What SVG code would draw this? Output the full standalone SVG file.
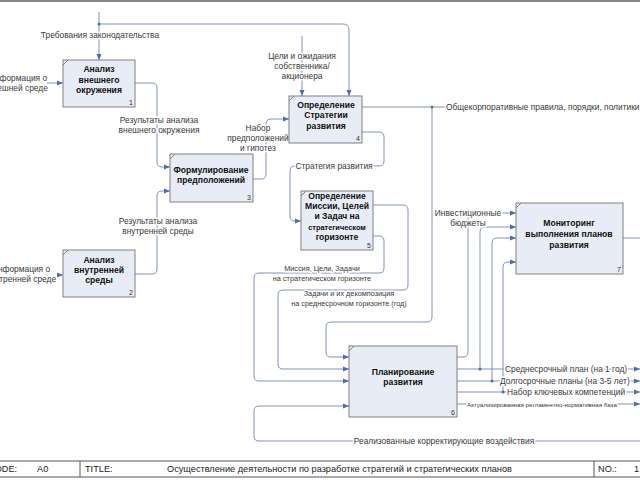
<svg xmlns="http://www.w3.org/2000/svg" width="640" height="480" viewBox="0 0 640 480">
<defs>
<marker id="ar" markerUnits="userSpaceOnUse" markerWidth="7" markerHeight="6" refX="6" refY="3" orient="auto">
<path d="M0,0.5 L6,3 L0,5.5 Z" fill="#4f6ea8"/>
</marker>
<style>
.bx{fill:#e8ecf6;stroke:#808080;stroke-width:1}
.cn{fill:none;stroke:#8192b8;stroke-width:1}
.dot{fill:#4f6ea8}
.t{font-family:"Liberation Sans",Arial,sans-serif;font-weight:bold;font-size:8.6px;fill:#111;text-anchor:middle}
.n{font-family:"Liberation Sans",Arial,sans-serif;font-size:7px;fill:#333;text-anchor:end}
.l{font-family:"Liberation Sans",Arial,sans-serif;font-size:8.4px;fill:#3a3a3a;text-anchor:middle;stroke:#fff;stroke-width:3;paint-order:stroke;stroke-linejoin:round}
.s{font-size:7.3px}
.ls{text-anchor:start}
.tb{font-family:"Liberation Sans",Arial,sans-serif;font-size:9.2px;fill:#222}
</style>
</defs>
<rect x="0" y="0" width="640" height="480" fill="#fff"/>
<line x1="0" y1="1" x2="640" y2="1" stroke="#606060" stroke-width="1.5"/>

<g id="connectors">
<path class="cn" d="M99,12 V60" marker-end="url(#ar)"/>
<path class="cn" d="M99,24 H343 Q349,24 349,30 V96" marker-end="url(#ar)"/>
<path class="cn" d="M302,36 V96" marker-end="url(#ar)"/>
<path class="cn" d="M47,83 H63" marker-end="url(#ar)"/>
<path class="cn" d="M57,275 H63" marker-end="url(#ar)"/>
<path class="cn" d="M135,83 H152 Q157,83 157,88 V162 Q157,167 162,167 H170" marker-end="url(#ar)"/>
<path class="cn" d="M135,274 H152 Q157,274 157,269 V196 Q157,191 162,191 H170" marker-end="url(#ar)"/>
<path class="cn" d="M253,179 H261 Q266,179 266,174 V124 Q266,119 271,119 H289" marker-end="url(#ar)"/>
<path class="cn" d="M362,132 H379 Q384,132 384,137 V161 Q384,166 379,166 H295 Q290,166 290,171 V216 Q290,221 295,221 H301" marker-end="url(#ar)"/>
<path class="cn" d="M362,107 H446"/>
<path class="cn" d="M432,107 V317 Q432,322 427,322 H331 Q326,322 326,327 V352 Q326,357 331,357 H349" marker-end="url(#ar)"/>
<path class="cn" d="M373,236 H379 Q384,236 384,241 V268 Q384,273 379,273 H259 Q254,273 254,278 V376 Q254,381 259,381 H349" marker-end="url(#ar)"/>
<path class="cn" d="M373,205 H403 Q408,205 408,210 V285 Q408,290 403,290 H283 Q278,290 278,295 V364 Q278,369 283,369 H349" marker-end="url(#ar)"/>
<path class="cn" d="M457,357 H463 Q468,357 468,352 V218 Q468,213 473,213 H516" marker-end="url(#ar)"/>
<path class="cn" d="M457,369 H640" marker-end="url(#ar)"/>
<path class="cn" d="M480,369 V232 Q480,227 485,227 H516" marker-end="url(#ar)"/>
<path class="cn" d="M457,381 H640" marker-end="url(#ar)"/>
<path class="cn" d="M492,381 V243 Q492,238 497,238 H516" marker-end="url(#ar)"/>
<path class="cn" d="M457,392 H640" marker-end="url(#ar)"/>
<path class="cn" d="M503,392 V267 Q503,262 508,262 H516" marker-end="url(#ar)"/>
<path class="cn" d="M457,404 H640" marker-end="url(#ar)"/>
<path class="cn" d="M623,238 H640"/>
<path class="cn" d="M640,441 H259 Q254,441 254,436 V411 Q254,406 259,406 H349" marker-end="url(#ar)"/>
<circle class="dot" cx="99" cy="24" r="1.5"/>
<circle class="dot" cx="432" cy="107" r="1.5"/>
<circle class="dot" cx="480" cy="369" r="1.5"/>
<circle class="dot" cx="492" cy="381" r="1.5"/>
<circle class="dot" cx="503" cy="392" r="1.5"/>

<text class="l" x="100" y="38">Требования законодательства</text>
<text class="l" x="302" y="59">Цели и ожидания</text>
<text class="l" x="302" y="69">собственника/</text>
<text class="l" x="302" y="79">акционера</text>
<text class="l" x="18" y="81">Информация о</text>
<text class="l" x="18" y="91">внешней среде</text>
<text class="l" x="21" y="272">Информация о</text>
<text class="l" x="21" y="282">внутренней среде</text>
<text class="l" x="159" y="123">Результаты анализа</text>
<text class="l" x="159" y="133">внешнего окружения</text>
<text class="l" x="158" y="224">Результаты анализа</text>
<text class="l" x="158" y="234">внутренней среды</text>
<text class="l" x="258" y="131">Набор</text>
<text class="l" x="258" y="141">предположений</text>
<text class="l" x="258" y="151">и гипотез</text>
<text class="l" x="334" y="169">Стратегия развития</text>
<text class="l ls" x="446" y="110">Общекорпоративные правила, порядки, политики</text>
<text class="l s" x="322" y="271">Миссия, Цели, Задачи</text>
<text class="l s" x="322" y="281">на стратегическом горизонте</text>
<text class="l s" x="349" y="296">Задачи и их декомпозиция</text>
<text class="l s" x="349" y="306">на среднесрочном горизонте (год)</text>
<text class="l" x="468" y="216">Инвестиционные</text>
<text class="l" x="468" y="226">бюджеты</text>
<text class="l ls" x="505" y="372">Среднесрочный план (на 1 год)</text>
<text class="l ls" x="500" y="384">Долгосрочные планы (на 3-5 лет)</text>
<text class="l ls" x="507" y="395">Набор ключевых компетенций</text>
<text class="l ls" x="467" y="406.5" style="font-size:6.2px">Актуализированная регламентно-нормативная база</text>
<text class="l" x="444" y="444">Реализованные корректирующие воздействия</text>
</g>

<g id="n1">
<rect class="bx" x="63" y="60" width="72" height="47"/>
<line x1="63" y1="65" x2="68" y2="60" stroke="#808080"/>
<text class="t" x="99" y="72">Анализ</text>
<text class="t" x="99" y="83">внешнего</text>
<text class="t" x="99" y="93">окружения</text>
<text class="n" x="133" y="105">1</text>
</g>
<g id="n2">
<rect class="bx" x="63" y="250" width="72" height="47"/>
<line x1="63" y1="255" x2="68" y2="250" stroke="#808080"/>
<text class="t" x="99" y="263">Анализ</text>
<text class="t" x="99" y="273">внутренней</text>
<text class="t" x="99" y="283">среды</text>
<text class="n" x="133" y="295">2</text>
</g>
<g id="n3">
<rect class="bx" x="170" y="154" width="83" height="48"/>
<line x1="170" y1="159" x2="175" y2="154" stroke="#808080"/>
<text class="t" x="211" y="173">Формулирование</text>
<text class="t" x="211" y="183">предположений</text>
<text class="n" x="251" y="200">3</text>
</g>
<g id="n4">
<rect class="bx" x="289" y="96" width="73" height="47"/>
<line x1="289" y1="101" x2="294" y2="96" stroke="#808080"/>
<text class="t" x="326" y="108">Определение</text>
<text class="t" x="326" y="118">Стратегии</text>
<text class="t" x="326" y="129">развития</text>
<text class="n" x="360" y="141">4</text>
</g>
<g id="n5">
<rect class="bx" x="301" y="191" width="72" height="59"/>
<line x1="301" y1="196" x2="306" y2="191" stroke="#808080"/>
<text class="t" x="337" y="199">Определение</text>
<text class="t" x="337" y="209">Миссии, Целей</text>
<text class="t" x="337" y="219">и Задач на</text>
<text class="t" x="337" y="230" style="font-size:7.4px">стратегическом</text>
<text class="t" x="337" y="240">горизонте</text>
<text class="n" x="371" y="248">5</text>
</g>
<g id="n6">
<rect class="bx" x="349" y="346" width="108" height="71"/>
<line x1="349" y1="351" x2="354" y2="346" stroke="#808080"/>
<text class="t" x="403" y="375">Планирование</text>
<text class="t" x="403" y="385">развития</text>
<text class="n" x="455" y="415">6</text>
</g>
<g id="n7">
<rect class="bx" x="516" y="203" width="107" height="71"/>
<line x1="516" y1="208" x2="521" y2="203" stroke="#808080"/>
<text class="t" x="569" y="226">Мониторинг</text>
<text class="t" x="569" y="237">выполнения планов</text>
<text class="t" x="569" y="248">развития</text>
<text class="n" x="621" y="272">7</text>
</g>

<g id="titlebar">
<line x1="0" y1="461" x2="640" y2="461" stroke="#555" stroke-width="1"/>
<line x1="0" y1="477" x2="640" y2="477" stroke="#555" stroke-width="1"/>
<line x1="80" y1="461" x2="80" y2="477" stroke="#555" stroke-width="1"/>
<line x1="594" y1="461" x2="594" y2="477" stroke="#555" stroke-width="1"/>
<text class="tb" x="-12" y="472">CODE:</text>
<text class="tb" x="37" y="472">A0</text>
<text class="tb" x="85" y="472">TITLE:</text>
<text class="tb" x="167" y="472">Осуществление деятельности по разработке стратегий и стратегических планов</text>
<text class="tb" x="598" y="472">NO.:</text>
<text class="tb" x="634" y="472">1</text>
</g>
</svg>
